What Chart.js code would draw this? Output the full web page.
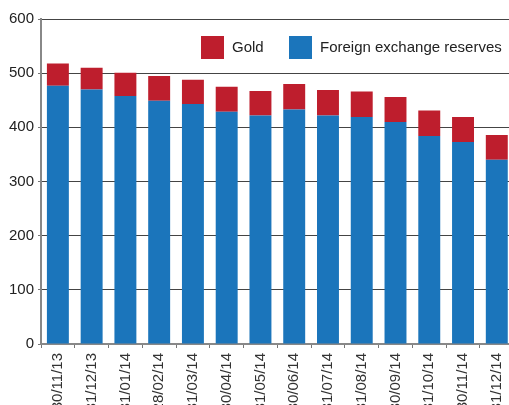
<!DOCTYPE html>
<html>
<head>
<meta charset="utf-8">
<script src="https://cdn.jsdelivr.net/npm/chart.js@4"></script>
<style>
  html, body { margin: 0; padding: 0; overflow: hidden; background: #fff; }
  #wrap { width: 520px; height: 440px; }
</style>
</head>
<body>
<div id="wrap"><canvas id="chart-1" width="520" height="440"></canvas></div>
<script>
const labels = ['30/11/13', '31/12/13', '31/01/14', '28/02/14', '31/03/14', '30/04/14', '31/05/14',
                '30/06/14', '31/07/14', '31/08/14', '30/09/14', '31/10/14', '30/11/14', '31/12/14'];
const fxReserves = [477, 470, 458, 449, 443, 429, 422, 433, 422, 419, 410, 384, 373, 340];
const gold = [41, 40, 43, 46, 45, 46, 45, 47, 47, 47, 46, 47, 46, 46];
const yMin = 0, yMax = 600, yStep = 100;

// legend drawn inside the plot, Gold first
const insideLegend = {
  id: 'insideLegend',
  afterDraw(chart) {
    const ctx = chart.ctx;
    const items = [
      { ds: chart.data.datasets[1], x: 201 },
      { ds: chart.data.datasets[0], x: 289 }
    ];
    ctx.save();
    ctx.font = '15px "Liberation Sans", Arial, sans-serif';
    ctx.textBaseline = 'middle';
    items.forEach(it => {
      ctx.fillStyle = it.ds.backgroundColor;
      ctx.fillRect(it.x, 36, 23, 23);
      ctx.fillStyle = '#222';
      ctx.fillText(it.ds.label, it.x + 31, 48);
    });
    ctx.restore();
  }
};

new Chart(document.getElementById('chart-1'), {
  type: 'bar',
  data: {
    labels: labels,
    datasets: [
      {
        label: 'Foreign exchange reserves',
        data: fxReserves,
        backgroundColor: '#1b75bb',
        barPercentage: 0.65,
        categoryPercentage: 1
      },
      {
        label: 'Gold',
        data: gold,
        backgroundColor: '#be1e2d',
        barPercentage: 0.65,
        categoryPercentage: 1
      }
    ]
  },
  options: {
    responsive: false,
    animation: false,
    layout: { padding: { top: 19, right: 6, left: 0, bottom: 0 } },
    plugins: {
      legend: { display: false },
      tooltip: { enabled: false }
    },
    scales: {
      x: {
        stacked: true,
        afterFit(scale) { scale.height = 96; },
        grid: { drawOnChartArea: false, drawTicks: true, tickLength: 4, color: '#777' },
        border: { color: '#888', width: 2 },
        ticks: {
          autoSkip: false,
          minRotation: 90,
          maxRotation: 90,
          padding: 5,
          color: '#333',
          font: { family: '"Liberation Sans", Arial, sans-serif', size: 15 }
        }
      },
      y: {
        stacked: true,
        min: yMin,
        max: yMax,
        afterFit(scale) { scale.width = 41; },
        grid: { color: '#444', tickColor: '#777', tickLength: 3 },
        border: { color: '#888', width: 2 },
        ticks: {
          stepSize: yStep,
          padding: 4,
          color: '#222',
          font: { family: '"Liberation Sans", Arial, sans-serif', size: 15 }
        }
      }
    }
  },
  plugins: [insideLegend]
});
</script>
</body>
</html>
